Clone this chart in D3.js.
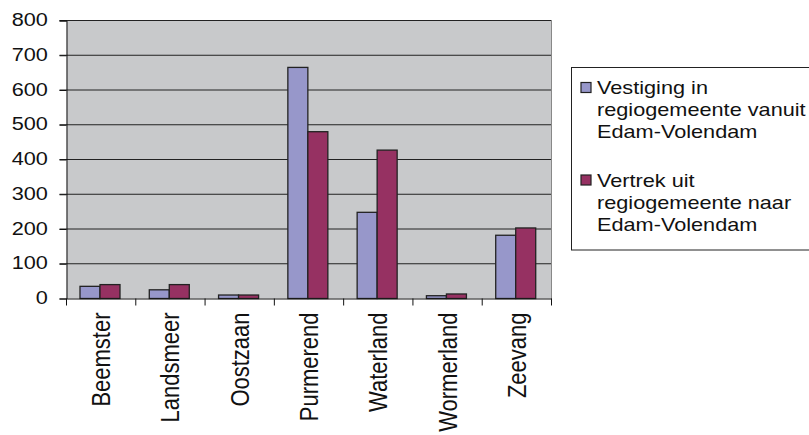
<!DOCTYPE html>
<html lang="nl">
<head>
    <meta charset="UTF-8">
    <title>Vestiging en vertrek</title>
    <script src="https://d3js.org/d3.v7.min.js"></script>
    <style>
        body { margin: 0; background: #fff; font-family: "Liberation Sans", Arial, sans-serif; }
        .axis text { fill: #111; font-family: "Liberation Sans", Arial, sans-serif; }
        .legend text { font-size: 18.7px; fill: #111; }
    </style>
</head>
<body>
    <svg width="809" height="435"></svg>
    <script>
        // Data
        const gemeenten = ["Beemster", "Landsmeer", "Oostzaan", "Purmerend", "Waterland", "Wormerland", "Zeevang"];
        const vestiging = [35, 25, 10, 665, 248, 8, 182];
        const vertrek = [40, 40, 10, 480, 427, 13, 203];
        const seriesNames = [
            ["Vestiging in", "regiogemeente vanuit", "Edam-Volendam"],
            ["Vertrek uit", "regiogemeente naar", "Edam-Volendam"]
        ];
        const yTicks = [0, 100, 200, 300, 400, 500, 600, 700, 800];
        const colors = ["#9797ca", "#963162"];

        // text in the original is a bit wider than it is tall
        const sx = 1.16;

        const margin = {top: 20.5, left: 66.5},
              width = 485, height = 278;

        const svg = d3.select("svg");
        const g = svg.append("g").attr("transform", `translate(${margin.left},${margin.top})`);

        const x = d3.scaleBand().domain(gemeenten).range([0, width]);
        const x1 = d3.scaleBand().domain([0, 1]).range([0, 40]);
        const y = d3.scaleLinear().domain([0, 800]).range([height, 0]);

        // plot background
        g.append("rect")
            .attr("width", width).attr("height", height)
            .attr("fill", "#c8c9cb");

        // gridlines
        g.selectAll("line.grid")
            .data(yTicks.slice(1))
            .enter().append("line")
            .attr("x1", -7).attr("x2", width)
            .attr("y1", d => y(d)).attr("y2", d => y(d))
            .attr("stroke", "#222").attr("stroke-width", 1);

        // right border
        g.append("line")
            .attr("x1", width).attr("x2", width)
            .attr("y1", 0).attr("y2", height)
            .attr("stroke", "#888").attr("stroke-width", 1);

        // bars
        const series = [vestiging, vertrek];
        series.forEach((vals, s) => {
            g.selectAll("rect.s" + s)
                .data(gemeenten)
                .enter().append("rect")
                .attr("class", "s" + s)
                .attr("x", (d) => x(d) + 13.5 + x1(s))
                .attr("y", (d, i) => y(vals[i]))
                .attr("width", x1.bandwidth())
                .attr("height", (d, i) => height - y(vals[i]))
                .attr("fill", colors[s])
                .attr("stroke", "#222")
                .attr("stroke-width", 1.3);
        });

        // y axis
        const yAxis = g.append("g").attr("class", "axis")
            .call(d3.axisLeft(y).tickValues(yTicks).tickSize(7).tickPadding(9.1));
        yAxis.select(".domain").attr("stroke", "#111");
        yAxis.selectAll(".tick line").attr("stroke", "#111");
        yAxis.selectAll(".tick text")
            .attr("font-size", 18.7)
            .attr("dy", "0.28em")
            .attr("transform", `scale(${sx},1)`);

        // x axis
        const xAxis = g.append("g").attr("class", "axis")
            .attr("transform", `translate(0,${height})`)
            .call(d3.axisBottom(x).tickSize(0).tickSizeOuter(0));
        xAxis.select(".domain").attr("stroke", "#111");
        xAxis.selectAll(".tick text")
            .attr("font-size", 22)
            .attr("transform", `scale(${sx},1) rotate(-90)`)
            .attr("text-anchor", "end")
            .attr("x", -14)
            .attr("y", 0)
            .attr("dy", "0.35em");
        // category separators
        xAxis.selectAll("line.sep")
            .data(gemeenten.concat(["end"]))
            .enter().append("line")
            .attr("x1", (d, i) => i * x.bandwidth())
            .attr("x2", (d, i) => i * x.bandwidth())
            .attr("y1", 0).attr("y2", 7)
            .attr("stroke", "#111");

        // legend
        const legend = svg.append("g").attr("class", "legend");
        legend.append("rect")
            .attr("x", 571.5).attr("y", 67.5)
            .attr("width", 250).attr("height", 182.5)
            .attr("fill", "#fff").attr("stroke", "#222").attr("stroke-width", 1);
        seriesNames.forEach((lines, s) => {
            const base = 94 + s * 92.5;
            legend.append("rect")
                .attr("x", 581).attr("y", base - 11.5)
                .attr("width", 10).attr("height", 10)
                .attr("fill", colors[s]).attr("stroke", "#222").attr("stroke-width", 1.2);
            lines.forEach((t, k) => {
                legend.append("text")
                    .attr("transform", `translate(597,${base + k * 22.2}) scale(${sx},1)`)
                    .text(t);
            });
        });
    </script>
</body>
</html>
